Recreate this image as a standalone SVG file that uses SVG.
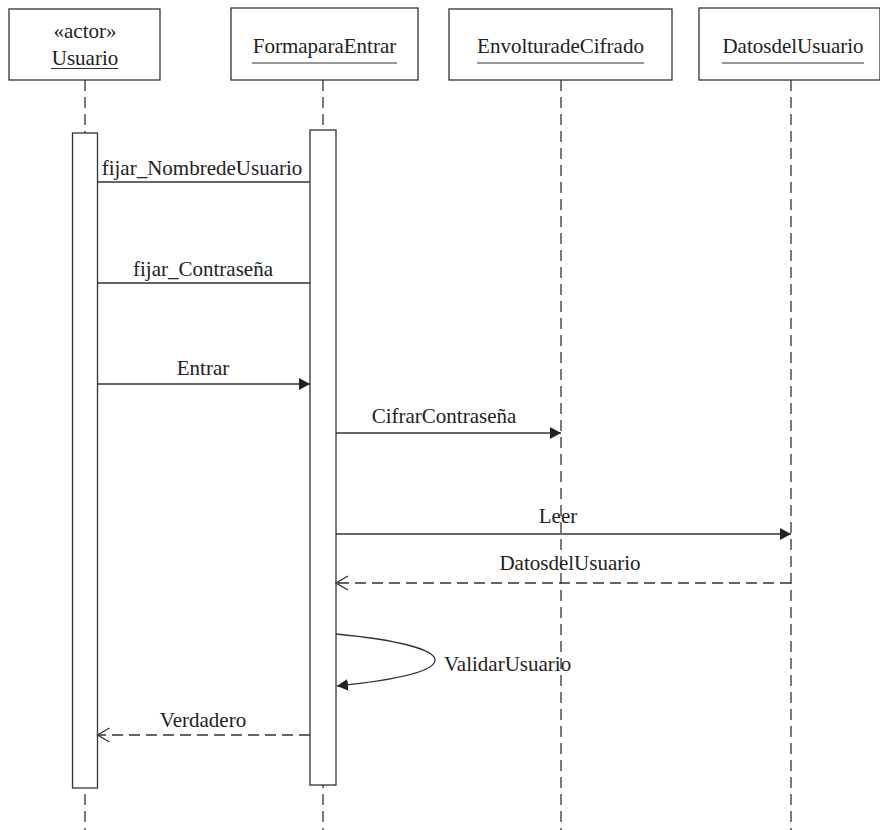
<svg xmlns="http://www.w3.org/2000/svg" width="880" height="830" viewBox="0 0 880 830">
<style>
.box{fill:#fff;stroke:#333;stroke-width:1.3}
.life{stroke:#333;stroke-width:1.3;stroke-dasharray:11 6;fill:none}
.act{fill:#fff;stroke:#333;stroke-width:1.3}
.msg{stroke:#333;stroke-width:1.3;fill:none}
.ret{stroke:#333;stroke-width:1.3;fill:none;stroke-dasharray:11 6}
.ul{stroke:#333;stroke-width:1}
text{font-family:"Liberation Serif","Times New Roman",serif;font-size:21px;fill:#222}
.c{text-anchor:middle}
</style>
<defs>
<marker id="fill" markerUnits="userSpaceOnUse" markerWidth="12" markerHeight="13" refX="11" refY="6" orient="auto">
<path d="M0,0 L11,6 L0,12 z" fill="#222"/>
</marker>
<marker id="open" markerUnits="userSpaceOnUse" markerWidth="14" markerHeight="16" refX="12.5" refY="7.5" orient="auto">
<path d="M0.5,0.5 L12.5,7.5 L0.5,14.5" fill="none" stroke="#333" stroke-width="1.3"/>
</marker>
</defs>

<g id="lifelines">
<line class="life" x1="85" y1="80" x2="85" y2="830"/>
<line class="life" x1="323" y1="80" x2="323" y2="830"/>
<line class="life" x1="561" y1="80" x2="561" y2="830"/>
<line class="life" x1="791" y1="80" x2="791" y2="830"/>
</g>

<g id="usuario">
<rect class="box" x="9" y="9" width="151" height="71"/>
<text class="c" x="85" y="38">«actor»</text>
<text class="c" x="85" y="65">Usuario</text>
<line class="ul" x1="51" y1="68.5" x2="118" y2="68.5"/>
<rect class="act" x="72.5" y="133" width="25" height="655"/>
</g>

<g id="formaparaentrar">
<rect class="box" x="231" y="8" width="187" height="72"/>
<text class="c" x="324.5" y="53">FormaparaEntrar</text>
<line class="ul" x1="252" y1="63" x2="397" y2="63"/>
<rect class="act" x="310" y="130" width="26" height="655"/>
</g>

<g id="envolturadecifrado">
<rect class="box" x="449" y="9" width="223" height="71"/>
<text class="c" x="560.5" y="53">EnvolturadeCifrado</text>
<line class="ul" x1="477" y1="63" x2="644" y2="63"/>
</g>

<g id="datosdelusuario">
<rect class="box" x="699" y="8" width="181" height="72"/>
<text class="c" x="793" y="53">DatosdelUsuario</text>
<line class="ul" x1="722" y1="63" x2="864" y2="63"/>
</g>

<g id="connectors">
<line class="msg" x1="97.5" y1="182" x2="310" y2="182"/>
<text class="c" x="202" y="175">fijar_NombredeUsuario</text>

<line class="msg" x1="97.5" y1="283" x2="310" y2="283"/>
<text class="c" x="203" y="276">fijar_Contraseña</text>

<line class="msg" x1="97.5" y1="384" x2="310" y2="384" marker-end="url(#fill)"/>
<text class="c" x="203" y="375">Entrar</text>

<line class="msg" x1="336" y1="433" x2="561" y2="433" marker-end="url(#fill)"/>
<text class="c" x="444" y="423">CifrarContraseña</text>

<line class="msg" x1="336" y1="534" x2="791" y2="534" marker-end="url(#fill)"/>
<text class="c" x="558" y="523">Leer</text>

<line class="ret" x1="791" y1="583" x2="336" y2="583" marker-end="url(#open)"/>
<text class="c" x="570" y="570">DatosdelUsuario</text>

<path class="msg" d="M336,634 C400,640 435,650 435,660 C435,672 395,680 337,686" marker-end="url(#fill)"/>
<text x="444" y="671">ValidarUsuario</text>

<line class="ret" x1="310" y1="735" x2="97.5" y2="735" marker-end="url(#open)"/>
<text class="c" x="203" y="727">Verdadero</text>
</g>
</svg>
